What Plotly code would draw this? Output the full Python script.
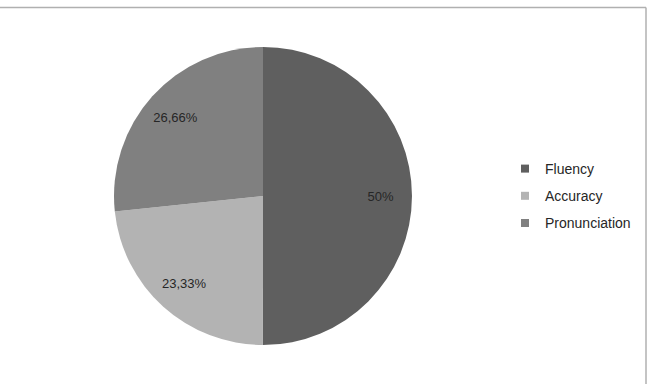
import plotly.graph_objects as go

categories = ["Fluency", "Accuracy", "Pronunciation"]
values = [50, 23.33, 26.66]
value_labels = ["50%", "23,33%", "26,66%"]
colors = ["#5f5f5f", "#b3b3b3", "#808080"]

W, H = 651, 384
cx, cy, r = 263, 196, 149
dom = dict(x=[(cx - r) / W, (cx + r) / W], y=[(H - cy - r) / H, (H - cy + r) / H])

fig = go.Figure()
fig.add_trace(go.Pie(
    labels=categories, values=values, textinfo="none",
    sort=False, direction="clockwise", rotation=0,
    marker=dict(colors=colors, line=dict(width=0)),
    showlegend=False, hoverinfo="label+percent", domain=dom,
))
# transparent ring carrying the value labels (places them near 0.8 r)
fig.add_trace(go.Pie(
    labels=categories, values=values, text=value_labels, hole=0.58,
    textinfo="text", textposition="inside", insidetextorientation="horizontal",
    sort=False, direction="clockwise", rotation=0,
    marker=dict(colors=["rgba(0,0,0,0)"] * 3, line=dict(width=0)),
    textfont=dict(family="Liberation Sans", size=13, color="#262626"),
    showlegend=False, hoverinfo="skip", domain=dom,
))
for name, col in zip(categories, colors):
    fig.add_trace(go.Scatter(
        x=[None], y=[None], mode="markers", name=name, legendgroup=name,
        marker=dict(symbol="square", size=8, color=col),
    ))

fig.update_layout(
    width=W, height=H, margin=dict(l=0, r=0, t=0, b=0),
    paper_bgcolor="white", plot_bgcolor="white",
    xaxis=dict(visible=False), yaxis=dict(visible=False),
    legend=dict(x=505 / W, y=(H - 153) / H, xanchor="left", yanchor="top",
                font=dict(family="Liberation Sans", size=14, color="#262626"),
                tracegroupgap=6, itemwidth=30, bgcolor="rgba(0,0,0,0)"),
    shapes=[
        dict(type="line", xref="paper", yref="paper", x0=0, x1=646 / W, y0=1 - 7.5 / H, y1=1 - 7.5 / H,
             line=dict(color="#b0b0b0", width=1.5)),
        dict(type="line", xref="paper", yref="paper", x0=646 / W, x1=646 / W, y0=0, y1=1 - 7.5 / H,
             line=dict(color="#b0b0b0", width=1.5)),
    ],
)
fig.write_html("out.html")
